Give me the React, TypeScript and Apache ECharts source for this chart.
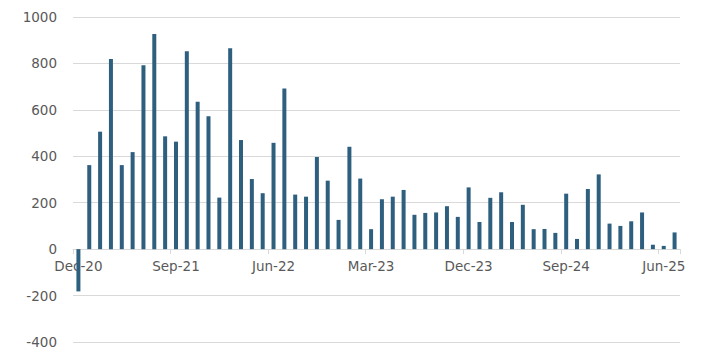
import React, { useEffect, useRef } from "react";
import * as echarts from "echarts";

const months: string[] = [
  "Dec-20",
  "Jan-21", "Feb-21", "Mar-21", "Apr-21", "May-21", "Jun-21", "Jul-21", "Aug-21", "Sep-21", "Oct-21", "Nov-21", "Dec-21",
  "Jan-22", "Feb-22", "Mar-22", "Apr-22", "May-22", "Jun-22", "Jul-22", "Aug-22", "Sep-22", "Oct-22", "Nov-22", "Dec-22",
  "Jan-23", "Feb-23", "Mar-23", "Apr-23", "May-23", "Jun-23", "Jul-23", "Aug-23", "Sep-23", "Oct-23", "Nov-23", "Dec-23",
  "Jan-24", "Feb-24", "Mar-24", "Apr-24", "May-24", "Jun-24", "Jul-24", "Aug-24", "Sep-24", "Oct-24", "Nov-24", "Dec-24",
  "Jan-25", "Feb-25", "Mar-25", "Apr-25", "May-25", "Jun-25", "Jul-25",
];

const values: number[] = [
  -182,
  362, 506, 819, 362, 418, 792, 927, 486, 463, 852, 635, 572,
  222, 865, 470, 302, 241, 458, 692, 235, 226, 397, 295, 126,
  441, 304, 86, 215, 226, 255, 148, 156, 158, 185, 139, 266,
  117, 221, 245, 117, 191, 86, 87, 70, 239, 44, 259, 322,
  110, 100, 120, 158, 19, 14, 72,
];

const yMin = -400;
const yMax = 1000;
const yStep = 200;

const FONT = "DejaVu Sans";
const FS = 13.5;

export default function App() {
  const ref = useRef<HTMLDivElement>(null);
  useEffect(() => {
    if (!ref.current) return;
    const chart = echarts.init(ref.current, null, { renderer: "svg" });
    const plotTop = 17;
    const plotBottom = 342;
    const zeroY = plotTop + ((yMax - 0) / (yMax - yMin)) * (plotBottom - plotTop);
    chart.setOption({
      animation: false,
      grid: [
        { left: 73, right: 24, top: plotTop, height: plotBottom - plotTop, containLabel: false, outerBoundsMode: "none" },
        { left: 73, right: 24, top: plotTop, height: zeroY - plotTop, containLabel: false, outerBoundsMode: "none" },
      ],
      xAxis: [
        {
          type: "category",
          gridIndex: 0,
          data: months,
          boundaryGap: true,
          axisLine: { onZero: true, lineStyle: { color: "#d9d9d9", width: 1 } },
          axisTick: { show: false },
          axisLabel: { show: false },
          splitLine: { show: false },
        },
        {
          type: "category",
          gridIndex: 1,
          data: months,
          boundaryGap: true,
          position: "bottom",
          axisLine: { show: false },
          axisTick: {
            show: true,
            interval: 8,
            alignWithLabel: false,
            length: 5,
            lineStyle: { color: "#d9d9d9" },
          },
          axisLabel: {
            interval: 8,
            margin: 10,
            color: "#595959",
            fontSize: FS,
            fontFamily: FONT,
          },
          splitLine: { show: false },
        },
      ],
      yAxis: [
        {
          type: "value",
          gridIndex: 0,
          min: yMin,
          max: yMax,
          interval: yStep,
          axisLine: { show: false },
          axisTick: { show: false },
          axisLabel: {
            margin: 16,
            color: "#595959",
            fontSize: FS,
            fontFamily: FONT,
            formatter: (v: number) => String(v),
          },
          splitLine: { lineStyle: { color: "#d9d9d9", width: 1 } },
        },
        {
          type: "value",
          gridIndex: 1,
          min: 0,
          max: yMax,
          show: false,
        },
      ],
      series: [
        {
          type: "bar",
          xAxisIndex: 0,
          yAxisIndex: 0,
          data: values,
          barWidth: 4,
          itemStyle: { color: "#2E5F7F" },
          z: 3,
        },
      ],
    });
    return () => chart.dispose();
  }, []);
  return (
    <div
      ref={ref}
      style={{ position: "fixed", left: 0, top: 0, width: 704, height: 351, background: "#fff" }}
    />
  );
}
